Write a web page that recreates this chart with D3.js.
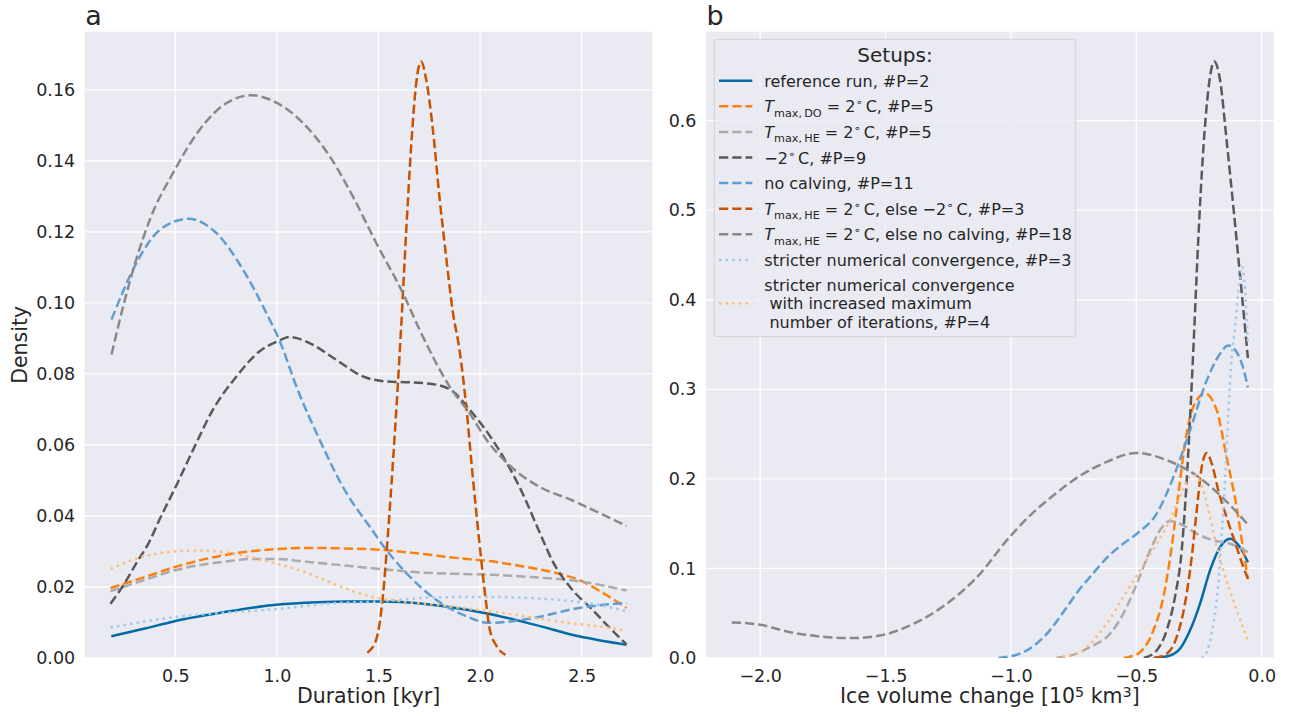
<!DOCTYPE html>
<html><head><meta charset="utf-8">
<script src="https://cdn.jsdelivr.net/npm/d3@7"></script>
<style>
body{margin:0;background:#fff}
text{font-family:"DejaVu Sans",sans-serif;fill:#262626}
</style>
</head><body>
<svg id="chart" width="1290" height="716"></svg>
<script>
// ---------- data ----------
// Panel a: density of event duration [kyr]
const durRef  = [[0.185,.0061],[0.35,.0083],[0.492,.0103],[0.75,.0130],[0.996,.0150],[1.2,.0157],[1.347,.0159],[1.5,.0159],[1.61,.0158],[1.829,.0145],[2.048,.0124],[2.267,.0094],[2.487,.0061],[2.721,.0037]];
const durDO   = [[0.181,.0197],[0.35,.0228],[0.4975,.0256],[0.752,.0291],[1.005,.0307],[1.128,.031],[1.292,.0309],[1.505,.0305],[1.702,.0294],[1.882,.0282],[2.045,.0273],[2.2,.0259],[2.377,.0239],[2.487,.022],[2.6,.0185],[2.721,.0141]];
const durHE   = [[0.181,.0188],[0.35,.0220],[0.4975,.0247],[0.752,.0272],[0.883,.0279],[1.005,.0279],[1.128,.0272],[1.292,.0263],[1.505,.0251],[1.702,.0241],[1.882,.0237],[2.038,.0235],[2.25,.0228],[2.487,.0216],[2.721,.019]];
const durM2   = [[0.181,.0153],[0.25,.021],[0.309,.0268],[0.37,.0325],[0.424,.0392],[0.506,.0487],[0.588,.0587],[0.686,.070],[0.801,.0793],[0.915,.0864],[1.005,.0892],[1.063,.0904],[1.161,.0887],[1.292,.084],[1.423,.0793],[1.538,.0779],[1.669,.0776],[1.784,.077],[1.866,.0751],[1.948,.070],[2.038,.0634],[2.1,.058],[2.2,.0475],[2.3,.0345],[2.355,.0275],[2.45,.0195],[2.553,.0136],[2.63,.009],[2.721,.0038]];
const durNC   = [[0.186,.0953],[0.309,.1113],[0.424,.1206],[0.563,.1237],[0.702,.1197],[0.833,.1094],[0.948,.0972],[1.014,.0893],[1.096,.0765],[1.21,.0615],[1.342,.0465],[1.456,.0371],[1.538,.0305],[1.653,.023],[1.784,.0164],[1.915,.0122],[2.048,.0099],[2.15,.0103],[2.267,.0113],[2.487,.0141],[2.721,.0155]];
const durHEM2 = [[1.445,.0015],[1.489,.0052],[1.522,.0174],[1.546,.0343],[1.571,.0549],[1.595,.0765],[1.612,.0935],[1.637,.1206],[1.661,.1441],[1.686,.162],[1.71,.168],[1.735,.1629],[1.768,.1488],[1.80,.130],[1.833,.1131],[1.866,.0975],[1.899,.0868],[1.932,.0709],[1.964,.0512],[1.997,.0324],[2.03,.0155],[2.048,.008],[2.08,.0035],[2.125,.0009]];
const durHENC = [[0.186,.0855],[0.25,.1005],[0.309,.1125],[0.375,.1235],[0.4975,.1375],[0.62,.1488],[0.752,.1563],[0.875,.1585],[0.965,.1573],[1.128,.1507],[1.26,.1413],[1.374,.130],[1.489,.1169],[1.62,.1028],[1.702,.0925],[1.85,.0765],[1.948,.069],[2.038,.061],[2.15,.054],[2.3,.048],[2.45,.0445],[2.6,.0405],[2.721,.0372]];
const durStr  = [[0.181,.0086],[0.4975,.0115],[0.75,.0128],[1.005,.0138],[1.292,.0155],[1.505,.0159],[1.784,.0171],[2.038,.0172],[2.2,.017],[2.4,.0163],[2.6,.0148],[2.721,.0131]];
const durIt   = [[0.181,.0251],[0.342,.0286],[0.4975,.030],[0.62,.0303],[0.752,.0297],[0.883,.0282],[0.97,.027],[1.128,.0244],[1.292,.0206],[1.456,.0174],[1.62,.0159],[1.784,.015],[1.948,.0138],[2.1,.0128],[2.267,.0113],[2.45,.0098],[2.6,.0088],[2.721,.0077]];

// Panel b: density of ice volume change [10^5 km^3]
const iceRef  = [[-0.43,0],[-0.366,.0028],[-0.326,.0103],[-0.286,.0307],[-0.246,.0605],[-0.206,.0978],[-0.166,.1238],[-0.126,.1332],[-0.087,.1238],[-0.055,.107]];
const iceDO   = [[-0.55,0],[-0.532,.001],[-0.485,.0065],[-0.432,.0307],[-0.392,.068],[-0.359,.1238],[-0.332,.1835],[-0.306,.2393],[-0.273,.2802],[-0.226,.2952],[-0.179,.2765],[-0.14,.2244],[-0.1,.1685],[-0.073,.1201],[-0.055,.088]];
const iceHE   = [[-0.82,0],[-0.724,.0065],[-0.685,.0121],[-0.605,.027],[-0.552,.0494],[-0.498,.0829],[-0.445,.1201],[-0.406,.1425],[-0.366,.1529],[-0.313,.148],[-0.259,.1388],[-0.193,.1313],[-0.126,.1276],[-0.055,.1182]];
const iceM2   = [[-0.47,0],[-0.419,.0084],[-0.379,.0307],[-0.346,.068],[-0.319,.120],[-0.299,.1983],[-0.286,.2654],[-0.27,.36],[-0.253,.4665],[-0.233,.567],[-0.213,.634],[-0.189,.666],[-0.166,.6453],[-0.14,.5782],[-0.113,.5037],[-0.087,.4293],[-0.055,.335]];
const iceNC   = [[-1.05,0],[-0.95,.0065],[-0.857,.027],[-0.777,.0568],[-0.724,.0775],[-0.685,.0903],[-0.605,.1154],[-0.55,.128],[-0.498,.1388],[-0.419,.161],[-0.352,.202],[-0.286,.254],[-0.219,.31],[-0.17,.338],[-0.133,.349],[-0.1,.3417],[-0.075,.325],[-0.055,.302]];
const iceHEM2 = [[-0.43,0],[-0.379,.0047],[-0.339,.0233],[-0.306,.0605],[-0.279,.1126],[-0.259,.1648],[-0.239,.2132],[-0.219,.2288],[-0.199,.217],[-0.173,.1872],[-0.14,.1573],[-0.1,.1238],[-0.073,.1015],[-0.055,.0885]];
const iceHENC = [[-2.113,.0397],[-2.0,.0371],[-1.881,.0289],[-1.761,.024],[-1.642,.0222],[-1.522,.0251],[-1.389,.0382],[-1.256,.0605],[-1.123,.094],[-1.017,.1313],[-0.924,.159],[-0.831,.1815],[-0.724,.2035],[-0.618,.219],[-0.5,.229],[-0.379,.221],[-0.259,.2035],[-0.153,.1783],[-0.055,.149]];
const iceStr  = [[-0.24,0],[-0.226,.003],[-0.193,.038],[-0.173,.0829],[-0.16,.135],[-0.146,.1983],[-0.133,.2728],[-0.12,.336],[-0.106,.37],[-0.093,.41],[-0.078,.437],[-0.067,.414],[-0.055,.35]];
const iceIt   = [[-0.82,0],[-0.724,.0065],[-0.685,.0159],[-0.618,.0382],[-0.552,.068],[-0.485,.0978],[-0.419,.1276],[-0.366,.1536],[-0.326,.1797],[-0.286,.202],[-0.265,.204],[-0.233,.1872],[-0.206,.1573],[-0.179,.1238],[-0.153,.0978],[-0.113,.0642],[-0.055,.0196]];

const durSeries = [durRef, durDO, durHE, durM2, durNC, durHEM2, durHENC, durStr, durIt];
const iceSeries = [iceRef, iceDO, iceHE, iceM2, iceNC, iceHEM2, iceHENC, iceStr, iceIt];
const seriesColors = ["#006BA4","#FF800E","#ABABAB","#595959","#5F9ED1","#C85200","#898989","#A2C8EC","#FFBC79"];
const seriesStyles = ["solid","dashed","dashed","dashed","dashed","dashed","dashed","dotted","dotted"];

// legend labels: [style, text] parts
const legendLabels = [
  [["n","reference run, #P=2"]],
  [["it","T"],["sub","max,\u2009DO"],["n"," = 2"],["sup","\u2218"],["n","\u2009C, #P=5"]],
  [["it","T"],["sub","max,\u2009HE"],["n"," = 2"],["sup","\u2218"],["n","\u2009C, #P=5"]],
  [["n","\u22122"],["sup","\u2218"],["n","\u2009C, #P=9"]],
  [["n","no calving, #P=11"]],
  [["it","T"],["sub","max,\u2009HE"],["n"," = 2"],["sup","\u2218"],["n","\u2009C, else \u22122"],["sup","\u2218"],["n","\u2009C, #P=3"]],
  [["it","T"],["sub","max,\u2009HE"],["n"," = 2"],["sup","\u2218"],["n","\u2009C, else no calving, #P=18"]],
  [["n","stricter numerical convergence, #P=3"]],
  [["n","stricter numerical convergence"]]
];
const legendExtraLines = ["\u00a0with increased maximum", "\u00a0number of iterations, #P=4"];
const legendTitle = "Setups:";

const durTicks = [0.5, 1.0, 1.5, 2.0, 2.5];
const densATicks = [0, 0.02, 0.04, 0.06, 0.08, 0.10, 0.12, 0.14, 0.16];
const iceTicks = [-2.0, -1.5, -1.0, -0.5, 0.0];
const densBTicks = [0, 0.1, 0.2, 0.3, 0.4, 0.5, 0.6];

// ---------- layout ----------
const svg = d3.select("#chart");
const PA = {left:84.7, right:652.3, top:31.7, bottom:658};
const PB = {left:706, right:1273.7, top:31.7, bottom:658};
const BG = "#EAEAF2";
const dashFor = s => s === "dashed" ? "9.25,4" : s === "dotted" ? "2.5,4.1" : null;

function padDomain(vals){ const [a,b] = d3.extent(vals); const p = (b-a)*0.05; return [a-p, b+p]; }

function panel(P, series, xTicks, yTicks, xFmt, yFmt, id){
  const xs = series.flat().map(d=>d[0]);
  const ys = series.flat().map(d=>d[1]);
  const x = d3.scaleLinear().domain(padDomain(xs)).range([P.left, P.right]);
  const y = d3.scaleLinear().domain([0, d3.max(ys)*1.05]).range([P.bottom, P.top]);
  const g = svg.append("g");
  g.append("rect").attr("x",P.left).attr("y",P.top).attr("width",P.right-P.left).attr("height",P.bottom-P.top).attr("fill",BG);
  g.append("clipPath").attr("id","clip"+id).append("rect").attr("x",P.left).attr("y",P.top).attr("width",P.right-P.left).attr("height",P.bottom-P.top);
  g.selectAll(".gx").data(xTicks).join("line").attr("x1",d=>x(d)).attr("x2",d=>x(d)).attr("y1",P.top).attr("y2",P.bottom).attr("stroke","#fff").attr("stroke-width",1.3);
  g.selectAll(".gy").data(yTicks).join("line").attr("y1",d=>y(d)).attr("y2",d=>y(d)).attr("x1",P.left).attr("x2",P.right).attr("stroke","#fff").attr("stroke-width",1.3);
  const ax = g.append("g").attr("transform",`translate(0,${P.bottom})`).call(d3.axisBottom(x).tickValues(xTicks).tickFormat(d3.format(xFmt)).tickSize(0).tickPadding(11.6));
  const ay = g.append("g").attr("transform",`translate(${P.left},0)`).call(d3.axisLeft(y).tickValues(yTicks).tickFormat(d3.format(yFmt)).tickSize(0).tickPadding(9.5));
  [ax, ay].forEach(a => { a.select(".domain").remove(); a.attr("font-family",null).attr("font-size",null);
    a.selectAll("text").attr("font-size",17.5).style("font-family","'DejaVu Sans',sans-serif").attr("fill","#262626"); });
  const line = d3.line().x(d=>x(d[0])).y(d=>y(d[1])).curve(d3.curveMonotoneX);
  const lg = g.append("g").attr("clip-path",`url(#clip${id})`);
  series.forEach((s,i)=>{
    lg.append("path").attr("d",line(s)).attr("fill","none").attr("stroke",seriesColors[i]).attr("stroke-width",2.5)
      .attr("stroke-dasharray",dashFor(seriesStyles[i]));
  });
  return {x,y,g};
}

panel(PA, durSeries, durTicks, densATicks, ".1f", ".2f", "a");
panel(PB, iceSeries, iceTicks, densBTicks, ".1f", ".1f", "b");

// panel letters
svg.append("text").attr("x",PA.left+0.5).attr("y",25).attr("font-size",27).text("a");
svg.append("text").attr("x",PB.left+0.5).attr("y",25).attr("font-size",27).text("b");

// axis labels
svg.append("text").attr("x",(PA.left+PA.right)/2).attr("y",703).attr("text-anchor","middle").attr("font-size",20.5).text("Duration [kyr]");
svg.append("text").attr("transform",`translate(27,${(PA.top+PA.bottom)/2}) rotate(-90)`).attr("text-anchor","middle").attr("font-size",20.5).text("Density");

function rich(sel, parts){
  let shift = 0;
  parts.forEach(p=>{
    const ts = sel.append("tspan").text(p[1]);
    const target = p[0]==="sub" ? 4.5 : p[0]==="sup" ? -6 : 0;
    ts.attr("dy", target - shift);
    shift = target;
    if (p[0]==="sub"||p[0]==="sup") ts.attr("font-size","0.7em");
    if (p[0]==="it") ts.attr("font-style","italic");
  });
}
const xlb = svg.append("text").attr("x",(PB.left+PB.right)/2).attr("y",703).attr("text-anchor","middle").attr("font-size",20.5);
rich(xlb, [["n","Ice volume change [10"],["sup","5"],["n"," km"],["sup","3"],["n","]"]]);

// ---------- legend ----------
const leg = svg.append("g");
leg.append("rect").attr("x",714.3).attr("y",39.3).attr("width",361.4).attr("height",297.4).attr("rx",3)
  .attr("fill",BG).attr("fill-opacity",0.8).attr("stroke","#cccccc").attr("stroke-opacity",0.8);
leg.append("text").attr("x",895).attr("y",61.7).attr("text-anchor","middle").attr("font-size",20).text(legendTitle);
legendLabels.forEach((parts,i)=>{
  const multi = i === legendLabels.length-1;
  const cy = multi ? 303.3 : 80.7 + 25.6*i;
  const ty = multi ? 285 : cy;
  leg.append("line").attr("x1",719).attr("x2",752.3).attr("y1",cy).attr("y2",cy)
    .attr("stroke",seriesColors[i]).attr("stroke-width",2.5).attr("stroke-dasharray",dashFor(seriesStyles[i]));
  const t = leg.append("text").attr("x",764.3).attr("y",ty+6).attr("font-size",16);
  rich(t, parts);
  if (multi) legendExtraLines.forEach((l,k)=>{
    leg.append("text").attr("x",764.3).attr("y",ty+6+18.35*(k+1)).attr("font-size",16).attr("xml:space","preserve").text(l);
  });
});
</script>
</body></html>
